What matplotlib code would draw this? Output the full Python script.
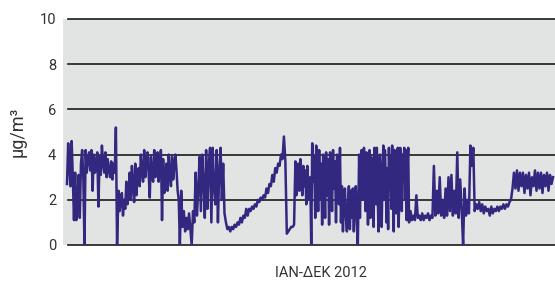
import matplotlib
matplotlib.use("Agg")
import numpy as np
from matplotlib import pyplot as plt

# concentration (μg/m3), Jan -> Dec 2012,
# in chunks; each chunk gets its own day-of-year span below
jan = [2.7, 4.5, 3.5, 2.6, 4.6, 3.0, 1.1, 3.2, 1.1, 2.0, 3.1, 1.2, 3.6,
       4.2, 3.0, 0.0, 4.2, 3.2, 3.8, 4.1, 3.3, 4.2, 2.4, 4.0, 3.2, 3.7,
       4.1, 1.7, 3.9, 3.1, 4.4, 3.6, 3.2, 4.1, 3.0, 3.8, 3.3, 3.0, 3.7,
       2.9, 3.6, 3.2, 5.2, 0.0]
feb = [2.4, 1.5, 2.0, 2.3, 1.3, 2.0, 1.6, 2.8, 1.8, 2.4, 3.2, 2.0, 3.5,
       2.6, 1.9, 3.6, 2.2, 3.0, 3.4, 2.6, 4.0, 3.3, 2.8, 4.2, 3.0, 3.6,
       4.1, 3.2, 2.1, 3.9, 3.2, 2.8, 4.2, 3.0, 3.8, 4.1, 2.8, 3.6, 4.2,
       1.1, 3.8, 2.3, 3.0, 3.6, 2.4, 4.0, 3.2, 2.6, 3.9, 2.9, 3.5, 4.0,
       3.3, 2.4, 2.0, 0.0]
apr = [2.4, 0.8, 1.5, 0.6, 1.2, 0.7, 1.4, 0.7, 0.0, 1.5, 1.0, 3.2, 1.3,
       2.5, 3.9, 1.5, 4.0, 2.8, 1.2, 4.2, 1.6, 3.5, 4.3, 1.0, 4.3, 2.6,
       1.8, 4.2, 1.0, 3.3, 4.3, 2.0, 3.6, 1.4]
may = [1.0, 0.7, 0.8, 0.6, 0.8, 0.7, 0.9, 0.8, 1.0, 0.9, 1.2, 1.0, 1.3,
       1.2, 1.6, 1.3, 1.6, 1.5, 1.7, 1.6, 1.8, 1.7, 2.0, 1.9, 2.1, 2.0,
       2.2, 2.1, 2.5, 2.3, 2.7, 2.6, 3.1, 2.8, 3.4, 3.2, 3.6, 3.5, 4.0,
       3.8, 4.8, 3.7, 0.5, 0.6, 0.7, 0.8, 0.8, 0.9]
jul = [3.7, 2.2, 3.0, 3.6, 2.4, 3.8, 2.9, 2.2, 3.5, 2.6, 3.3, 1.8, 3.5,
       2.7, 2.0, 3.0, 0.0, 4.5, 2.8, 3.9, 1.2, 4.4, 3.5, 1.5, 4.2, 2.0,
       3.6, 0.9, 4.0, 3.0, 1.2, 4.1, 2.2, 3.8, 0.9, 4.1, 3.4, 1.5, 4.2,
       2.5, 3.7, 1.0, 4.0, 3.3, 1.8, 4.3, 1.0, 2.6, 0.6, 2.0, 2.5, 1.2,
       0.6, 1.8, 2.6, 0.7, 2.4, 1.2, 2.5, 0.6, 2.2, 2.6, 1.0, 0.0]
sep = [4.0, 1.2, 3.6, 4.2, 2.0, 3.3, 4.3, 3.0, 1.5, 4.1, 2.7, 0.9, 3.5,
       4.2, 1.2, 3.9, 2.5, 3.8, 0.8, 4.3, 3.2, 1.8, 4.3, 2.4, 0.6, 3.8,
       4.0, 2.9, 0.8, 2.9, 4.4, 2.0, 4.2, 3.1, 1.0, 3.4, 0.7, 4.3, 2.6,
       3.9, 1.6, 4.4, 3.0, 0.6, 4.2, 2.8, 1.4, 3.7, 4.3, 0.8, 2.2, 4.3,
       3.4, 1.5, 4.0, 3.1, 4.3, 2.0, 4.2, 1.1, 3.6, 4.3, 1.0]
oct_ = [1.5, 1.1, 1.3, 1.1, 2.2, 1.2, 1.3, 1.1, 1.4, 1.1, 1.3, 1.2, 1.4,
        1.1, 1.3, 1.2, 3.5, 1.3, 2.4, 1.4, 3.0, 1.3, 2.0, 1.2, 2.5, 1.3,
        3.0, 1.5, 3.1, 1.3, 2.4, 1.4, 4.1, 1.2, 2.9, 1.6, 0.0, 2.5, 1.3,
        2.0, 1.4, 4.4, 3.5, 4.3]
nov = [1.5, 1.8, 1.6, 1.9, 1.5, 1.8, 1.4, 1.7, 1.5, 1.6, 1.3, 1.7, 1.4,
       1.6, 1.5, 1.7, 1.5, 1.7, 1.6, 1.8, 1.6, 1.8, 1.7, 1.9, 2.0, 2.5]
dec = [3.2, 2.5, 3.3, 2.4, 3.2, 2.6, 3.2, 2.3, 3.1, 2.5, 3.2, 2.2, 3.0,
       2.6, 3.3, 2.4, 3.2, 2.5, 3.2, 2.3, 3.1, 2.6, 3.2, 2.4, 3.1, 2.7,
       3.0]

chunks = [jan, feb, apr, may, jul, sep, oct_, nov, dec]
# first / last day of year covered by each chunk
chunk_days = [(0, 37.7), (38.8, 85), (86, 118.6), (119.7, 171), (172, 219),
              (220, 257.6), (258.7, 306), (307, 335.5), (336.6, 366)]

x_label = "IAN-ΔΕΚ 2012"
y_label = "μg/m³"
y_ticks = [0, 2, 4, 6, 8, 10]

days = np.concatenate([np.linspace(a, b, len(c)) for c, (a, b) in zip(chunks, chunk_days)])
values = np.concatenate(chunks)

plt.rcParams['font.family'] = ['Roboto', 'DejaVu Sans']

fig = plt.figure(figsize=(5.55, 2.84), dpi=100)
ax = fig.add_axes([63 / 555, 1 - 245 / 284, 492 / 555, 226 / 284])
ax.set_facecolor('#e2e3e3')

ax.plot(days, values, color='#33287f', lw=1.8, zorder=3)

span = 366 / 486  # days per pixel
ax.set_xlim(-4 * span, 366 + 2 * span)
ax.set_ylim(0, 10)

for y in y_ticks:
    ax.axhline(y, xmin=0.011, color='#1a1a1a', lw=1.2, zorder=2, clip_on=False)

for s in ax.spines.values():
    s.set_visible(False)
ax.set_xticks([])
ax.set_yticks(y_ticks)
ax.tick_params(axis='y', length=0, pad=5, labelsize=10.5, labelcolor='#333333')
ax.set_ylabel(y_label, fontsize=13, color='#333333', labelpad=9)

fig.text(321 / 555, 1 - 273 / 284, x_label, ha='center', va='center',
         fontsize=10.5, color='#333333')

fig.savefig('out.png', dpi=100)
